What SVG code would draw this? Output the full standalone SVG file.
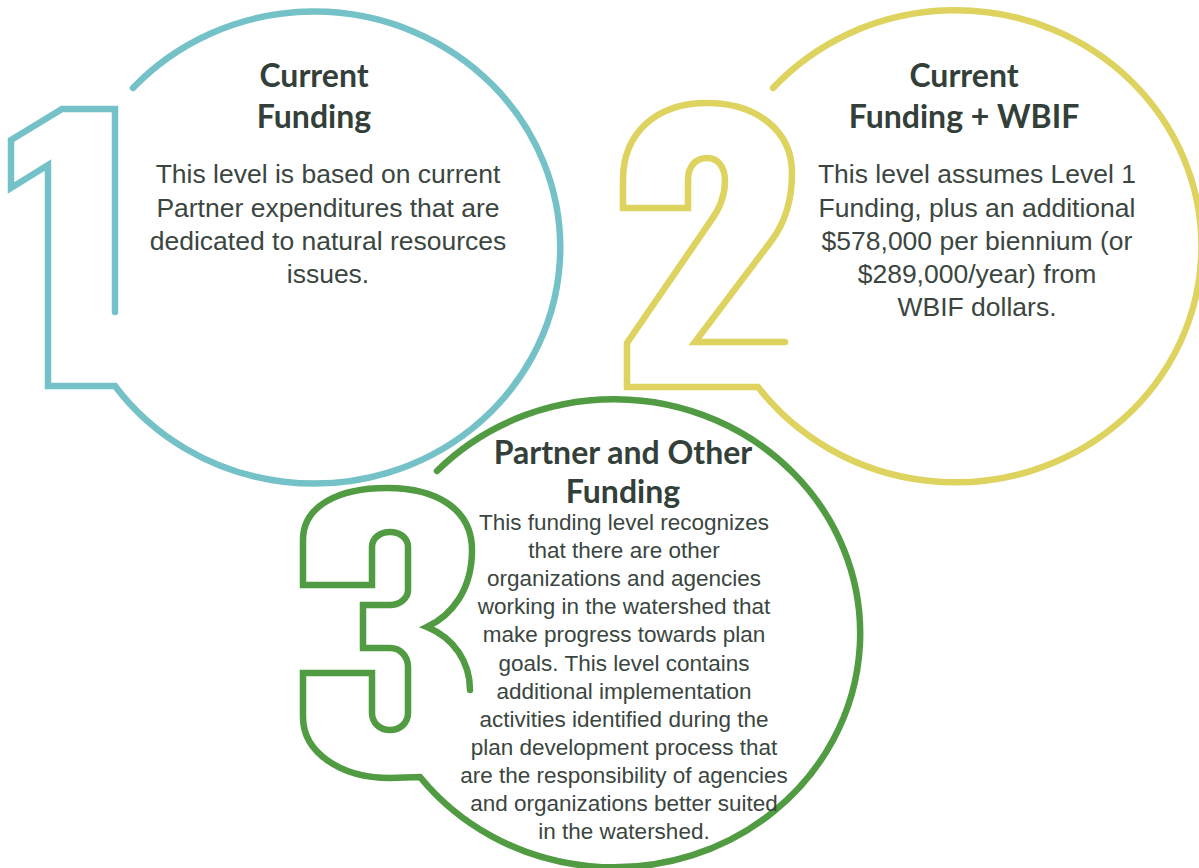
<svg xmlns="http://www.w3.org/2000/svg" width="1199" height="868" viewBox="0 0 1199 868">
<style>
.ring{fill:none;stroke-width:6.5;stroke-linecap:round;stroke-linejoin:miter}
.teal{stroke:#74C2C8}
.yellow{stroke:#DDD35E}
.green{stroke:#519B42}
.title{font-family:Lato,"Liberation Sans",sans-serif;font-weight:bold;font-size:32px;fill:#33403A;text-anchor:middle}
.body{font-family:"Liberation Sans",Arial,sans-serif;font-size:26.5px;fill:#3B4641;text-anchor:middle}
.body3{font-family:"Liberation Sans",Arial,sans-serif;font-size:22.5px;fill:#3B4641;text-anchor:middle}
</style>
<rect width="1199" height="868" fill="#FFFFFF"/>
<g id="node-1">
<path class="ring teal" d="M 133 88 A 246 236 0 1 1 115 386 L 48 386 L 48 165 L 11 188 L 11 140 L 62 109 L 115 109 L 115 312"/>
<text class="title" x="314" y="87">Current</text>
<text class="title" x="314" y="128">Funding</text>
<text class="body" x="328" y="183">This level is based on current</text>
<text class="body" x="328" y="216.5">Partner expenditures that are</text>
<text class="body" x="328" y="250">dedicated to natural resources</text>
<text class="body" x="328" y="283">issues.</text>
</g>
<g id="node-2">
<path class="ring yellow" d="M 785 342 L 695 342 L 772 240 C 786 221 792 200 792 173 C 792 130 756 103 707 103 C 656 103 623 133 623 180 L 623 208 L 688 208 L 688 180 C 688 166 696 158 707 158 C 718 158 725 167 725 181 C 725 196 719 210 710 222 L 627 343 L 627 387 L 758 387 A 246 236 0 1 0 773 88"/>
<text class="title" x="964" y="87">Current</text>
<text class="title" x="964" y="128">Funding + WBIF</text>
<text class="body" x="977" y="183">This level assumes Level 1</text>
<text class="body" x="977" y="216.5">Funding, plus an additional</text>
<text class="body" x="977" y="250">$578,000 per biennium (or</text>
<text class="body" x="977" y="283">$289,000/year) from</text>
<text class="body" x="977" y="316">WBIF dollars.</text>
</g>
<g id="node-3">
<path class="ring green" d="M 470 690 C 470 662 454 638 427 627 C 452 615 472 590 472 550 C 472 510 438 488 387 488 C 338 488 303 506 303 540 L 303 585 L 372 585 L 372 547 C 372 538 380 532 390 532 C 400 532 408 538 408 547 L 408 590 C 408 598 400 605 390 605 L 363 605 L 363 648 L 390 648 C 400 648 408 656 408 667 L 408 713 C 408 723 400 730 390 730 C 380 730 372 723 372 713 L 372 673 L 303 673 L 303 717 C 303 752 340 778 390 778 L 420 777 A 246 234 0 1 0 437 471"/>
<text class="title" x="623" y="464">Partner and Other</text>
<text class="title" x="623" y="503">Funding</text>
<text class="body3" x="624" y="530">This funding level recognizes</text>
<text class="body3" x="624" y="558.1">that there are other</text>
<text class="body3" x="624" y="586.2">organizations and agencies</text>
<text class="body3" x="624" y="614.3">working in the watershed that</text>
<text class="body3" x="624" y="642.4">make progress towards plan</text>
<text class="body3" x="624" y="670.5">goals. This level contains</text>
<text class="body3" x="624" y="698.6">additional implementation</text>
<text class="body3" x="624" y="726.7">activities identified during the</text>
<text class="body3" x="624" y="754.8">plan development process that</text>
<text class="body3" x="624" y="782.9">are the responsibility of agencies</text>
<text class="body3" x="624" y="811">and organizations better suited</text>
<text class="body3" x="624" y="839.1">in the watershed.</text>
</g>
</svg>
